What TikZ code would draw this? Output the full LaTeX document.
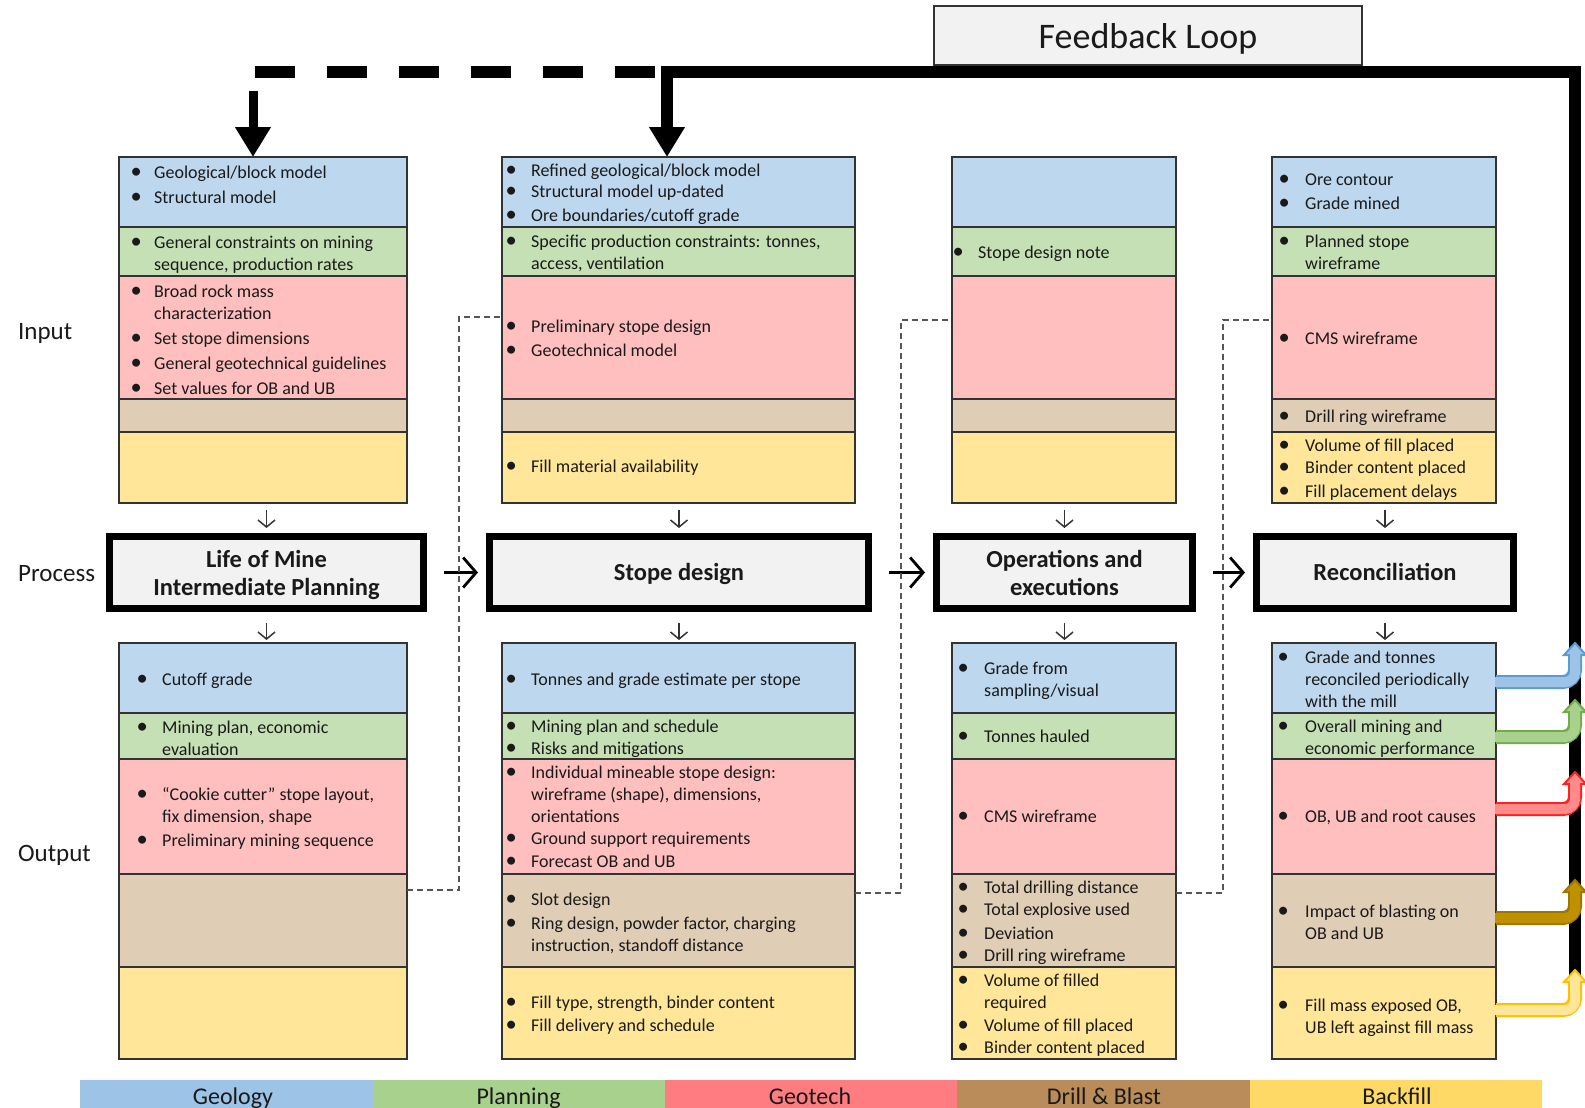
\documentclass[tikz,border=0pt]{standalone}
\usepackage{fontspec}
\usepackage{graphicx}
\setmainfont{Carlito}
\usetikzlibrary{arrows.meta,calc}
\definecolor{cBlue}{HTML}{BDD7EE}
\definecolor{cGreen}{HTML}{C5E0B4}
\definecolor{cRed}{HTML}{FFBFBF}
\definecolor{cTan}{HTML}{E0CDB6}
\definecolor{cYel}{HTML}{FFE699}
\definecolor{lBlue}{HTML}{9DC3E6}
\definecolor{lGreen}{HTML}{A9D18E}
\definecolor{lRed}{HTML}{FF7C80}
\definecolor{lBrown}{HTML}{B98C5A}
\definecolor{lYel}{HTML}{FFD966}
\definecolor{aBlueD}{HTML}{5B9BD5}
\definecolor{aGreenD}{HTML}{70AD47}
\definecolor{aRedF}{HTML}{FF8A8A}
\definecolor{aRedD}{HTML}{FF2020}
\definecolor{aBrF}{HTML}{BF9000}
\definecolor{aBrD}{HTML}{9C7600}
\definecolor{aYelF}{HTML}{FFE699}
\definecolor{aYelD}{HTML}{FFC000}
\definecolor{bord}{HTML}{333333}
\definecolor{txtc}{HTML}{1A1A1A}
\definecolor{procfill}{HTML}{F2F2F2}
\definecolor{dshc}{HTML}{555555}
\newcommand\bodyf{\fontsize{18}{22}\selectfont}
\newcommand\procf{\bfseries\fontsize{24.5}{28}\selectfont}
\newcommand\bul{\raisebox{-0.7pt}{\scalebox{1.25}{\textbullet}}}
\newcommand\twol[2]{\raisebox{5.5pt}[0pt][0pt]{\begin{tabular}[t]{@{}c@{}}#1\\#2\end{tabular}}}
\newcommand\onel[1]{\raisebox{-7.5pt}[0pt][0pt]{#1}}
\newcommand\itm[5]{\node[txt] (#1) at (#2,#4) {\begin{tabular}[t]{@{}l@{}l@{}}\makebox[#3pt][l]{\makebox[0pt]{\bul}}&#5\end{tabular}};}
\newcommand\mkcol[3]{%
\node[row,fill=cBlue,minimum width=#3pt,minimum height=70pt] (#1i1) at (#2,157) {};
\node[row,fill=cGreen,minimum width=#3pt,minimum height=49pt] (#1i2) at (#2,227) {};
\node[row,fill=cRed,minimum width=#3pt,minimum height=123pt] (#1i3) at (#2,276) {};
\node[row,fill=cTan,minimum width=#3pt,minimum height=33pt] (#1i4) at (#2,399) {};
\node[row,fill=cYel,minimum width=#3pt,minimum height=71pt] (#1i5) at (#2,432) {};
\node[row,fill=cBlue,minimum width=#3pt,minimum height=70pt] (#1o1) at (#2,643) {};
\node[row,fill=cGreen,minimum width=#3pt,minimum height=46pt] (#1o2) at (#2,713) {};
\node[row,fill=cRed,minimum width=#3pt,minimum height=115pt] (#1o3) at (#2,759) {};
\node[row,fill=cTan,minimum width=#3pt,minimum height=93pt] (#1o4) at (#2,874) {};
\node[row,fill=cYel,minimum width=#3pt,minimum height=92pt] (#1o5) at (#2,967) {};}
\newcommand\sarr[6]{% name, start node, offset, tip y, fill, draw
\coordinate (#1s) at ($(#2.north east)+(0,#3)$);
\coordinate (#1) at (1575,#4);
\draw[line width=14pt,#6,rounded corners=12pt] (#1s) -| ($(#1)+(0,10)$);
\filldraw[fill=#5,draw=#6,line width=2pt,line join=miter] ($(#1)+(-11,12)$) -- (#1) -- ($(#1)+(11,12)$) -- cycle;
\draw[line width=10pt,#5,rounded corners=10pt] ($(#1s)+(-1,0)$) -| ($(#1)+(0,9)$);}
\begin{document}
\begin{tikzpicture}[x=1pt,y=-1pt,
  row/.style={draw=bord,line width=1.3pt,anchor=north west,inner sep=0pt,outer sep=0pt},
  txt/.style={anchor=base west,inner sep=0pt,font=\bodyf,text=txtc},
  proc/.style={draw=black,line width=7pt,fill=procfill,font=\procf,align=center,text=txtc,inner sep=0pt},
  side/.style={anchor=base west,inner sep=0pt,font=\fontsize{25}{30}\selectfont,text=txtc},
  leg/.style={anchor=north west,inner sep=0pt,minimum width=292.4pt,minimum height=40pt},
  legt/.style={anchor=base,inner sep=0pt,font=\fontsize{24}{28}\selectfont,text=txtc},
  darr/.style={line width=1.5pt,draw=bord,-{Straight Barb[length=7pt,width=17pt,line width=1.5pt]}},
  parr/.style={line width=2.8pt,draw=black,-{Straight Barb[length=13pt,width=30pt,line width=2.8pt]},shorten <=17pt,shorten >=8pt},
  dsh/.style={line width=1.8pt,draw=dshc,dash pattern=on 6pt off 4pt},
  fbline/.style={line width=12pt,draw=black,line join=miter,-{Triangle[width=34pt,length=30pt]}},
  fbdash/.style={line width=12pt,draw=black,dash pattern=on 40pt off 32pt},
  fbarr/.style={line width=9pt,draw=black,-{Triangle[width=34pt,length=30pt]}}
]
\path[use as bounding box,fill=white] (0,0) rectangle (1585,1108);

% columns
\mkcol{c1}{119}{288}
\mkcol{c2}{502}{353}
\mkcol{c3}{952}{224}
\mkcol{c4}{1272}{224}

% process boxes
\node[proc,minimum width=314pt,minimum height=72pt] (p1) at (266.5,572.5) {\twol{Life of Mine}{Intermediate Planning}};
\node[proc,minimum width=379pt,minimum height=72pt] (p2) at (679,572.5) {\onel{Stope design}};
\node[proc,minimum width=256pt,minimum height=72pt] (p3) at (1064.5,572.5) {\twol{Operations and}{executions}};
\node[proc,minimum width=257pt,minimum height=72pt] (p4) at (1385,572.5) {\onel{Reconciliation}};

% side labels
\node[side] (lin) at (18,339) {Input};
\node[side] (lpr) at (18,581) {Process};
\node[side] (lout) at (18,861) {Output};

% small arrows
\foreach \p/\c in {p1/c1,p2/c2,p3/c3,p4/c4}{
  \draw[darr] ($(\p.north |- \c i5.south)+(0,7)$) -- ($(\p.north)+(0,-5)$);
  \draw[darr] ($(\p.south)+(0,11)$) -- ($(\p.south |- \c o1.north)+(0,-3)$);
}
\draw[parr] (p1) -- (p2);
\draw[parr] (p2) -- (p3);
\draw[parr] (p3) -- (p4);

% dashed connectors
\coordinate (d1a) at (459,890); \coordinate (d1b) at (459,317);
\coordinate (d2a) at (901,893); \coordinate (d2b) at (901,320);
\coordinate (d3a) at (1223,893); \coordinate (d3b) at (1223,320);
\draw[dsh] (c1o4.east |- d1a) -- (d1a) -- (d1b) -- (d1b -| c2i3.west);
\draw[dsh] (c2o4.east |- d2a) -- (d2a) -- (d2b) -- (d2b -| c3i3.west);
\draw[dsh] (c3o4.east |- d3a) -- (d3a) -- (d3b) -- (d3b -| c4i3.west);

% feedback loop
\coordinate (fbR) at (1575,982);
\coordinate (fbC) at (1575,72);
\coordinate (fbM) at (667,72);
\coordinate (fbL) at (255,72);
\coordinate (fbJ) at (661,72);
\coordinate (laS) at (253,91);
\draw[fbdash] (fbL) -- (fbJ);
\draw[fbline] (fbR) -- (fbC) -- (fbM) -- (fbM |- c2i1.north);
\draw[fbarr] (laS) -- (laS |- c1i1.north);
\node[draw=bord,line width=1.2pt,fill=procfill,minimum width=428pt,minimum height=59pt,inner sep=0pt,font=\fontsize{36}{40}\selectfont,text=txtc] (fbl) at (1148,35.5) {\raisebox{-13pt}[0pt][0pt]{Feedback Loop}};

% side colored arrows
\sarr{s1}{c4o1}{39}{643}{lBlue}{aBlueD}
\sarr{s2}{c4o2}{24}{700}{lGreen}{aGreenD}
\sarr{s3}{c4o3}{50}{772}{aRedF}{aRedD}
\sarr{s4}{c4o4}{44}{880}{aBrF}{aBrD}
\sarr{s5}{c4o5}{43}{970}{aYelF}{aYelD}

% column 1 input
\itm{a1}{136}{18}{178}{Geological/block model}
\itm{a2}{136}{18}{203}{Structural model}
\itm{a3}{136}{18}{248}{General constraints on mining\\&sequence, production rates}
\itm{a4}{136}{18}{297}{Broad rock mass\\&characterization}
\itm{a5}{136}{18}{344}{Set stope dimensions}
\itm{a6}{136}{18}{369}{General geotechnical guidelines}
\itm{a7}{136}{18}{394}{Set values for OB and UB}
% column 2 input
\itm{b1}{511}{20}{176}{Refined geological/block model}
\itm{b2}{511}{20}{197}{Structural model up-dated}
\itm{b3}{511}{20}{221}{Ore boundaries/cutoff grade}
\itm{b4}{511}{20}{247}{Specific production constraints: tonnes,\\&access, ventilation}
\itm{b5}{511}{20}{332}{Preliminary stope design}
\itm{b6}{511}{20}{356}{Geotechnical model}
\itm{b7}{511}{20}{472}{Fill material availability}
% column 3 input
\itm{cc1}{958}{20}{258}{Stope design note}
% column 4 input
\itm{d1}{1284}{21}{185}{Ore contour}
\itm{d2}{1284}{21}{209}{Grade mined}
\itm{d3}{1284}{21}{247}{Planned stope\\&wireframe}
\itm{d4}{1284}{21}{344}{CMS wireframe}
\itm{d5}{1284}{21}{422}{Drill ring wireframe}
\itm{d6}{1284}{21}{451}{Volume of fill placed}
\itm{d7}{1284}{21}{473}{Binder content placed}
\itm{d8}{1284}{21}{497}{Fill placement delays}
% column 1 output
\itm{e1}{142}{20}{685}{Cutoff grade}
\itm{e2}{142}{20}{733}{Mining plan, economic\\&evaluation}
\itm{e3}{142}{20}{800}{“Cookie cutter” stope layout,\\&fix dimension, shape}
\itm{e4}{142}{20}{846}{Preliminary mining sequence}
% column 2 output
\itm{f1}{511}{20}{685}{Tonnes and grade estimate per stope}
\itm{f2}{511}{20}{732}{Mining plan and schedule}
\itm{f3}{511}{20}{754}{Risks and mitigations}
\itm{f4}{511}{20}{778}{Individual mineable stope design:\\&wireframe (shape), dimensions,\\&orientations}
\itm{f5}{511}{20}{844}{Ground support requirements}
\itm{f6}{511}{20}{867}{Forecast OB and UB}
\itm{f7}{511}{20}{905}{Slot design}
\itm{f8}{511}{20}{929}{Ring design, powder factor, charging\\&instruction, standoff distance}
\itm{f9}{511}{20}{1008}{Fill type, strength, binder content}
\itm{f10}{511}{20}{1031}{Fill delivery and schedule}
% column 3 output
\itm{g1}{963}{21}{674}{Grade from\\&sampling/visual}
\itm{g2}{963}{21}{742}{Tonnes hauled}
\itm{g3}{963}{21}{822}{CMS wireframe}
\itm{g4}{963}{21}{893}{Total drilling distance}
\itm{g5}{963}{21}{915}{Total explosive used}
\itm{g6}{963}{21}{939}{Deviation}
\itm{g7}{963}{21}{961}{Drill ring wireframe}
\itm{g8}{963}{21}{986}{Volume of filled\\&required}
\itm{g9}{963}{21}{1031}{Volume of fill placed}
\itm{g10}{963}{21}{1053}{Binder content placed}
% column 4 output
\itm{h1}{1283}{22}{663}{Grade and tonnes\\&reconciled periodically\\&with the mill}
\itm{h2}{1283}{22}{732}{Overall mining and\\&economic performance}
\itm{h3}{1283}{22}{822}{OB, UB and root causes}
\itm{h4}{1283}{22}{917}{Impact of blasting on\\&OB and UB}
\itm{h5}{1283}{22}{1011}{Fill mass exposed OB,\\&UB left against fill mass}

% legend
\node[leg,fill=lBlue] (lg1) at (80,1080) {};
\node[leg,fill=lGreen] (lg2) at (372.4,1080) {};
\node[leg,fill=lRed] (lg3) at (664.8,1080) {};
\node[leg,fill=lBrown] (lg4) at (957.2,1080) {};
\node[leg,fill=lYel] (lg5) at (1249.6,1080) {};
\node[legt] (lt1) at (233,1104) {Geology};
\node[legt] (lt2) at (518.6,1104) {Planning};
\node[legt] (lt3) at (810,1104) {Geotech};
\node[legt] (lt4) at (1104,1104) {Drill \& Blast};
\node[legt] (lt5) at (1397,1104) {Backfill};
\end{tikzpicture}
\end{document}
